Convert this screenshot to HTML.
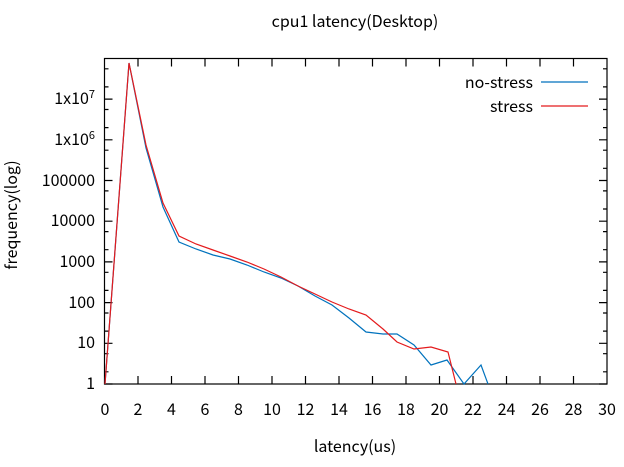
<!DOCTYPE html>
<html><head><meta charset="utf-8"><style>body{margin:0;background:#fff}</style></head><body>
<svg width="624" height="462" xmlns="http://www.w3.org/2000/svg" font-family="Noto Sans CJK SC, Liberation Sans, sans-serif" font-size="16">
<rect width="624" height="462" fill="#fff"/>
<g stroke="#000" stroke-width="1.2" fill="none">
<rect x="104.5" y="58.5" width="502.5" height="325.5"/>
<path d="M104.5 384h8M607 384h-8M104.5 343.3h8M607 343.3h-8M104.5 302.6h8M607 302.6h-8M104.5 261.9h8M607 261.9h-8M104.5 221.2h8M607 221.2h-8M104.5 180.5h8M607 180.5h-8M104.5 139.8h8M607 139.8h-8M104.5 99.1h8M607 99.1h-8"/>
<path d="M104.5 371.8h4M104.5 353.7h4M104.5 331.1h4M104.5 313h4M104.5 290.4h4M104.5 272.3h4M104.5 249.7h4M104.5 231.6h4M104.5 209h4M104.5 190.9h4M104.5 168.3h4M104.5 150.2h4M104.5 127.6h4M104.5 109.5h4M104.5 86.9h4M104.5 68.8h4M607 371.8h-4M607 353.7h-4M607 331.1h-4M607 313h-4M607 290.4h-4M607 272.3h-4M607 249.7h-4M607 231.6h-4M607 209h-4M607 190.9h-4M607 168.3h-4M607 150.2h-4M607 127.6h-4M607 109.5h-4M607 86.9h-4M607 68.8h-4"/>
<path d="M138 384v-8M171.5 384v-8M205 384v-8M238.5 384v-8M272 384v-8M305.5 384v-8M339 384v-8M372.5 384v-8M406 384v-8M439.5 384v-8M473 384v-8M506.5 384v-8M540 384v-8M573.5 384v-8M138 58.5v8M171.5 58.5v8M205 58.5v8M238.5 58.5v8M272 58.5v8M305.5 58.5v8M339 58.5v8M372.5 58.5v8M406 58.5v8M439.5 58.5v8M473 58.5v8M506.5 58.5v8M540 58.5v8M573.5 58.5v8"/>
</g>
<g text-anchor="end">
<text x="95" y="389">1</text><text x="95" y="348">10</text><text x="95" y="308">100</text><text x="95" y="267">1000</text><text x="95" y="226">10000</text><text x="95" y="186">100000</text>
<text x="95" y="145">1x10<tspan font-size="11" dy="-6">6</tspan></text>
<text x="95" y="104">1x10<tspan font-size="11" dy="-6">7</tspan></text>
</g>
<g text-anchor="middle">
<text x="105" y="415">0</text><text x="138" y="415">2</text><text x="171.5" y="415">4</text><text x="205" y="415">6</text><text x="238.5" y="415">8</text><text x="272" y="415">10</text><text x="305.5" y="415">12</text><text x="339" y="415">14</text><text x="372.5" y="415">16</text><text x="406" y="415">18</text><text x="439.5" y="415">20</text><text x="473" y="415">22</text><text x="506.5" y="415">24</text><text x="540" y="415">26</text><text x="573.5" y="415">28</text><text x="607" y="415">30</text>
<text x="355" y="452">latency(us)</text>
<text x="355" y="27">cpu1 latency(Desktop)</text>
<text transform="translate(17,215) rotate(-90)">frequency(log)</text>
</g>
<text x="533" y="88" text-anchor="end">no-stress</text>
<text x="533" y="112" text-anchor="end">stress</text>
<path d="M541 82h47" stroke="#0072bd" stroke-width="1.2"/>
<path d="M541 106h47" stroke="#e41a1c" stroke-width="1.2"/>
<polyline fill="none" stroke="#0072bd" stroke-width="1.2" points="105,384 129,63 146,148 163,207 179,242 196,249 213,255 230,259 247,265 264,272 281,278 298,286 315,296 332,305 349,318 366,332 383,334 397,334 414,345 431,365 447,360 464,384 481,365 488,384"/>
<polyline fill="none" stroke="#e41a1c" stroke-width="1.2" points="105,384 129,63 146,145 163,203 179,236 196,244 213,250 230,256 247,262 264,269 281,277 298,286 315,294 332,302 349,309 366,315 383,329 397,342 414,349 431,347 448,352 456,384"/>
</svg>
</body></html>
